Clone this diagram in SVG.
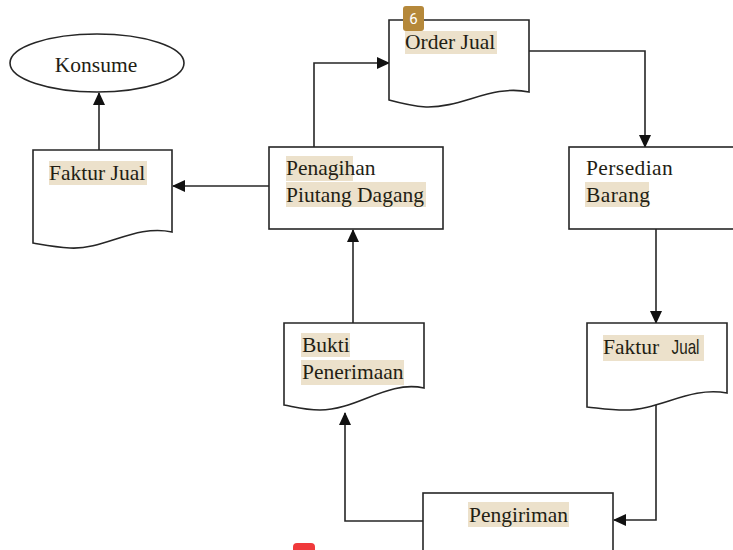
<svg xmlns="http://www.w3.org/2000/svg" width="733" height="550" viewBox="0 0 733 550">
<defs>
<style>
.shape{fill:#fff;stroke:#262626;stroke-width:1.6}
.conn{fill:none;stroke:#262626;stroke-width:1.6}
.lbl{font-family:"Liberation Serif","Times New Roman",serif;font-size:21.5px;fill:#231e14}
.hl{fill:#ece1cb}
</style>
<marker id="arr" markerWidth="13" markerHeight="13" refX="12" refY="6.5" orient="auto" markerUnits="userSpaceOnUse">
<path d="M0,0.5 L13,6.5 L0,12.5 Z" fill="#111"/>
</marker>
</defs>
<rect width="733" height="550" fill="#fff"/>
<g id="connectors">
<path class="conn" d="M99,150 V93" marker-end="url(#arr)"/>
<path class="conn" d="M269,186 H173" marker-end="url(#arr)"/>
<path class="conn" d="M314,147 V63 H389" marker-end="url(#arr)"/>
<path class="conn" d="M529,51 H645 V147" marker-end="url(#arr)"/>
<path class="conn" d="M656,229 V323" marker-end="url(#arr)"/>
<path class="conn" d="M656,398 V520 H614" marker-end="url(#arr)"/>
<path class="conn" d="M423,521 H345 V413" marker-end="url(#arr)"/>
<path class="conn" d="M353,323 V230" marker-end="url(#arr)"/>
</g>
<g id="konsume">
<ellipse class="shape" cx="97" cy="63" rx="87" ry="29"/>
<text class="lbl" x="96" y="72" text-anchor="middle">Konsume</text>
</g>
<g id="faktur-jual-1">
<path class="shape" d="M33,150 H172 V232 C135,224 105,250 70,248 C55,247 45,245 33,243 Z"/>
<rect class="hl" x="49" y="161" width="98" height="24"/>
<text class="lbl" x="49" y="180">Faktur Jual</text>
</g>
<g id="penagihan">
<rect class="shape" x="269" y="147" width="174" height="82"/>
<rect class="hl" x="286" y="156" width="67" height="25"/>
<rect class="hl" x="286" y="182" width="140" height="25"/>
<text class="lbl" x="286" y="175">Penagihan</text>
<text class="lbl" x="286" y="202">Piutang Dagang</text>
</g>
<g id="order-jual">
<path class="shape" d="M389,20 H529 V92 C492,84 462,108 426,107 C412,106 400,103 389,100 Z"/>
<rect class="hl" x="405" y="31" width="92" height="23"/>
<text class="lbl" x="405" y="49">Order Jual</text>
<rect x="403" y="6" width="21" height="25" rx="3" fill="#b5883a"/>
<text x="413.5" y="24" text-anchor="middle" font-family="Roboto,'Liberation Sans',sans-serif" font-size="15" fill="#fff">6</text>
</g>
<g id="persedian">
<rect class="shape" x="569" y="147" width="175" height="82"/>
<rect class="hl" x="585" y="182" width="64" height="25"/>
<text class="lbl" x="586" y="175" letter-spacing="0.4">Persedian</text>
<text class="lbl" x="586" y="202" letter-spacing="0.4">Barang</text>
</g>
<g id="faktur-jual-2">
<path class="shape" d="M587,323 H727 V393 C690,386 660,410 625,410 C610,410 598,408 587,407 Z"/>
<rect class="hl" x="603" y="335" width="101" height="26"/>
<text class="lbl" x="603" y="354">Faktur <tspan dx="7" font-family="'Liberation Sans',Arial,sans-serif" font-size="21" textLength="28" lengthAdjust="spacingAndGlyphs">Jual</tspan></text>
</g>
<g id="bukti">
<path class="shape" d="M284,323 H424 V388 C387,380 357,410 320,410 C305,410 295,407 284,405 Z"/>
<rect class="hl" x="301" y="333" width="49" height="24"/>
<rect class="hl" x="301" y="360" width="103" height="25"/>
<text class="lbl" x="302" y="352">Bukti</text>
<text class="lbl" x="302" y="379">Penerimaan</text>
</g>
<g id="pengiriman">
<rect class="shape" x="423" y="493" width="190" height="70"/>
<rect class="hl" x="468" y="502" width="101" height="25"/>
<text class="lbl" x="518.5" y="522" text-anchor="middle">Pengiriman</text>
</g>
<rect x="293" y="543" width="22" height="20" rx="4" fill="#f0393b"/>
</svg>
